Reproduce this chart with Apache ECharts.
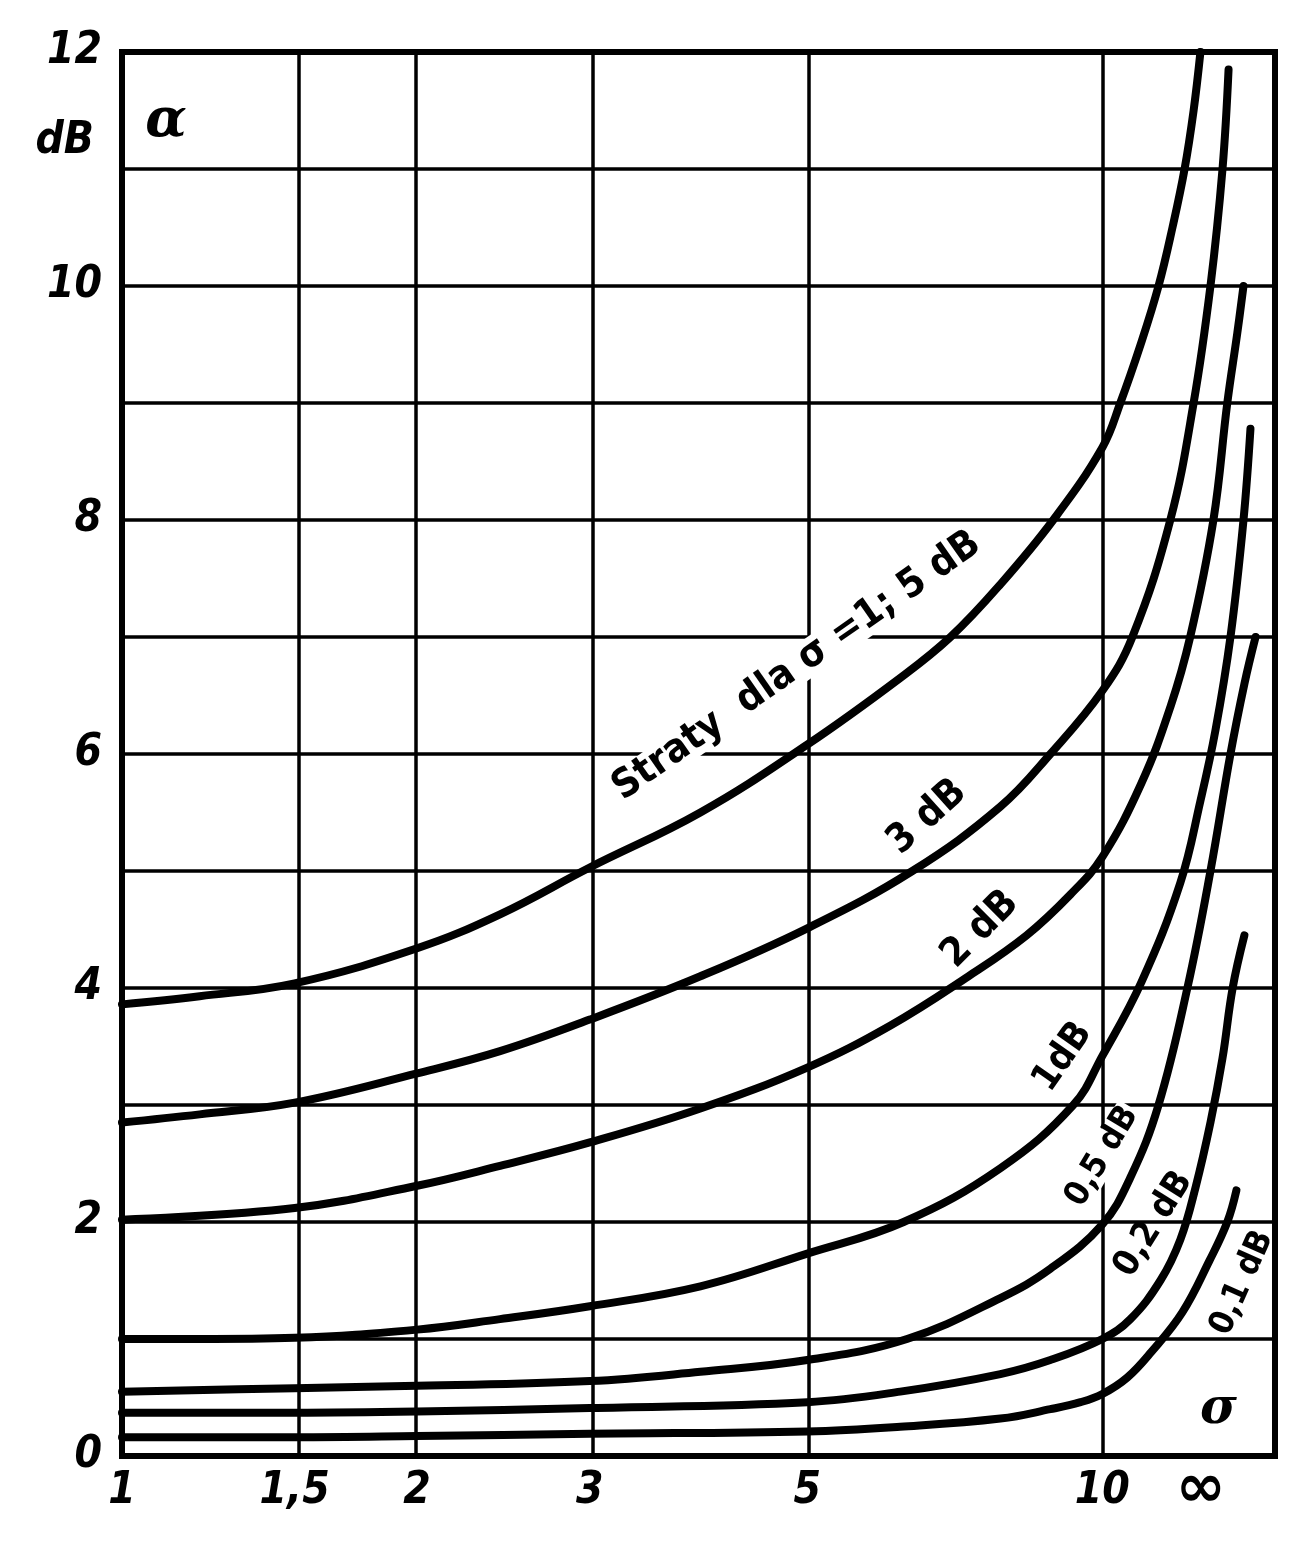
<!DOCTYPE html>
<html>
<head>
<meta charset="utf-8">
<title>Straty</title>
<script src="https://cdn.jsdelivr.net/npm/echarts@6.0.0/dist/echarts.min.js"></script>
<style>
    html, body { margin: 0; padding: 0; background: #fff; }
    #chart { width: 1316px; height: 1550px; }
</style>
</head>
<body>
<div id="chart"></div>
<script>
// wartości: sigma (oś x, skala log) i alfa w dB (oś y)
var sigma5 = [1, 1.2, 1.5, 2, 2.43, 3, 3.89, 5, 6.22, 7.0, 7.87, 8.91, 10, 10.43, 10.94, 11.41, 11.79, 12.13, 12.39, 12.59];
var alpha5 = [3.86, 3.93, 4.04, 4.34, 4.63, 5.03, 5.5, 6.08, 6.65, 7.0, 7.45, 8.0, 8.62, 9.0, 9.5, 10.0, 10.5, 11.0, 11.5, 12.0];

var sigma3 = [1, 1.2, 1.5, 2, 2.43, 3, 3.89, 5, 6.4, 7.87, 8.85, 10, 10.73, 11.73, 12.39, 12.89, 13.26, 13.45];
var alpha3 = [2.85, 2.92, 3.02, 3.27, 3.46, 3.73, 4.1, 4.51, 5.0, 5.55, 6.0, 6.54, 7.0, 8.0, 9.0, 10.0, 11.0, 11.85];

var sigma2 = [1, 1.5, 2, 2.43, 3, 3.89, 5, 6.08, 7.3, 8.37, 9.28, 10, 10.96, 11.73, 12.29, 12.98, 13.41, 13.73, 13.93];
var alpha2 = [2.02, 2.12, 2.31, 2.48, 2.68, 2.97, 3.32, 3.68, 4.1, 4.45, 4.8, 5.12, 5.75, 6.4, 7.0, 8.0, 9.0, 9.6, 10.0];

var sigma1 = [1, 1.2, 1.5, 2, 2.43, 3, 3.89, 5, 6.27, 7.87, 9.34, 10, 10.96, 12.01, 12.59, 13.04, 13.51, 13.93, 14.16];
var alpha1 = [1.0, 1.0, 1.01, 1.08, 1.17, 1.28, 1.45, 1.73, 2.0, 2.46, 3.0, 3.42, 4.05, 4.9, 5.6, 6.2, 7.0, 8.0, 8.78];

var sigma05 = [1, 1.5, 2, 3, 3.89, 5, 6.32, 7.87, 8.85, 10, 10.68, 11.41, 12.21, 12.89, 13.51, 13.96, 14.33];
var alpha05 = [0.55, 0.58, 0.6, 0.64, 0.72, 0.82, 1.0, 1.35, 1.6, 1.98, 2.38, 3.0, 4.0, 5.0, 6.0, 6.6, 7.0];

var sigma02 = [1, 1.5, 2, 3, 5, 6.22, 7.87, 8.85, 10, 10.68, 11.46, 12.01, 12.45, 12.89, 13.26, 13.58, 13.96];
var alpha02 = [0.37, 0.37, 0.38, 0.41, 0.46, 0.55, 0.7, 0.82, 1.0, 1.17, 1.5, 1.85, 2.3, 2.85, 3.4, 4.0, 4.45];

var sigma01 = [1, 1.5, 2, 3, 5, 6.22, 7.87, 8.85, 9.5, 10, 10.6, 11.22, 12.07, 12.86, 13.41, 13.70];
var alpha01 = [0.16, 0.16, 0.17, 0.19, 0.21, 0.25, 0.32, 0.4, 0.46, 0.53, 0.67, 0.89, 1.23, 1.67, 2.0, 2.27];

// opisy osi
var xTickSigma = [1, 1.5, 2, 3, 5, 10];
var xTickText = ['1', '1,5', '2', '3', '5', '10'];
var infSigma = 12.6;      // miejsce znaku nieskończoności
var sigmaMax = 15.0;      // prawa krawędź siatki
var yMin = 0, yMax = 12;

var fontTech = "'Liberation Sans Narrow', 'DejaVu Sans Condensed', 'DejaVu Sans', sans-serif";

function lg(v) {
    return Math.log10(v);
}

function pairs(sig, alf) {
    return sig.map(function (s, i) {
        return [lg(s), alf[i]];
    });
}

function initChart() {
    var curves = [
        {name: 'Straty dla σ=1; 5 dB', sigma: sigma5, alpha: alpha5},
        {name: '3 dB', sigma: sigma3, alpha: alpha3},
        {name: '2 dB', sigma: sigma2, alpha: alpha2},
        {name: '1 dB', sigma: sigma1, alpha: alpha1},
        {name: '0,5 dB', sigma: sigma05, alpha: alpha05},
        {name: '0,2 dB', sigma: sigma02, alpha: alpha02},
        {name: '0,1 dB', sigma: sigma01, alpha: alpha01}
    ];

    // napisy przy krzywych: [tekst, sigma, alfa, kąt, rozmiar, białe tło]
    var notes = [
        ['Straty  dla σ =1; 5 dB', 4.88, 6.75, 35, 40, true],
        ['3 dB', 6.63, 5.46, 42, 40, false],
        ['2 dB', 7.51, 4.5, 45, 40, false],
        ['1dB', 9.12, 3.41, 55, 38, false],
        ['0,5 dB', 10.0, 2.56, 59, 34, true],
        ['0,2 dB', 11.28, 1.98, 58, 36, false],
        ['0,1 dB', 13.89, 1.48, 66, 34, false]
    ];

    var series = curves.map(function (c) {
        return {
            name: c.name,
            type: 'line',
            data: pairs(c.sigma, c.alpha),
            smooth: 0.4,
            showSymbol: false,
            symbol: 'none',
            silent: true,
            z: 5,
            lineStyle: {color: '#000', width: 8, cap: 'round', join: 'round'}
        };
    });

    // pionowe linie siatki
    series.push({
        type: 'line',
        data: [],
        silent: true,
        z: 1,
        markLine: {
            silent: true,
            symbol: ['none', 'none'],
            animation: false,
            label: {show: false},
            lineStyle: {color: '#000', width: 3.5, type: 'solid'},
            data: xTickSigma.slice(1).map(function (s) {
                return {xAxis: lg(s)};
            })
        }
    });

    // napisy
    var noteData = notes.map(function (n) {
        return {
            value: [lg(n[1]), n[2]],
            label: {
                formatter: n[0],
                rotate: n[3],
                fontSize: n[4],
                lineHeight: n[4] * 0.9,
                backgroundColor: n[5] ? '#fff' : 'transparent',
                padding: n[5] ? [0, 2] : 0
            }
        };
    });
    noteData.push({
        value: [lg(1.109), 11.4],
        label: {formatter: 'α', fontSize: 54, fontStyle: 'italic', fontFamily: "'DejaVu Serif', serif"}
    });
    noteData.push({
        value: [lg(13.13), 0.39],
        label: {formatter: 'σ', fontSize: 50, fontStyle: 'italic', fontFamily: "'DejaVu Serif', serif"}
    });
    series.push({
        type: 'scatter',
        symbolSize: 0,
        silent: true,
        z: 10,
        itemStyle: {opacity: 1},
        data: noteData,
        label: {
            show: true,
            position: 'inside',
            color: '#000',
            opacity: 1,
            fontFamily: fontTech,
            fontWeight: 'bold'
        }
    });

    var xCustom = xTickSigma.map(lg).concat([lg(infSigma)]);
    var tickFont = {
        color: '#000',
        fontSize: 44,
        fontStyle: 'italic',
        fontWeight: 'bold',
        fontFamily: fontTech
    };

    var chart = echarts.init(document.getElementById('chart'));
    var option = {
        animation: false,
        backgroundColor: '#fff',
        grid: {
            left: 122,
            right: 41,
            top: 52,
            bottom: 94,
            show: true,
            borderColor: '#000',
            borderWidth: 6,
            backgroundColor: 'transparent',
            outerBoundsMode: 'none'
        },
        xAxis: {
            type: 'value',
            min: 0,
            max: lg(sigmaMax),
            axisLine: {show: false},
            axisTick: {show: false},
            splitLine: {show: false},
            axisLabel: Object.assign({
                customValues: xCustom,
                hideOverlap: false,
                margin: 14,
                formatter: function (v) {
                    for (var i = 0; i < xTickSigma.length; i++) {
                        if (Math.abs(lg(xTickSigma[i]) - v) < 1e-6) return xTickText[i];
                    }
                    return '{inf|∞}';
                },
                rich: {
                    inf: {
                        fontSize: 60,
                        lineHeight: 40,
                        verticalAlign: 'middle',
                        fontWeight: 'bold',
                        fontFamily: "'DejaVu Sans', sans-serif",
                        color: '#000'
                    }
                }
            }, tickFont)
        },
        yAxis: {
            type: 'value',
            min: yMin,
            max: yMax,
            interval: 1,
            axisLine: {show: false},
            axisTick: {show: false},
            splitLine: {show: true, lineStyle: {color: '#000', width: 3.5}},
            axisLabel: Object.assign({
                margin: 20,
                formatter: function (v) {
                    return v % 2 === 0 ? String(v) : '';
                }
            }, tickFont),
            name: 'dB',
            nameLocation: 'end',
            nameGap: -112,
            nameMoveOverlap: false,
            nameTextStyle: Object.assign({align: 'right', padding: [0, 28, 0, 0]}, tickFont)
        },
        series: series
    };
    chart.setOption(option);
}

initChart();
</script>
</body>
</html>
